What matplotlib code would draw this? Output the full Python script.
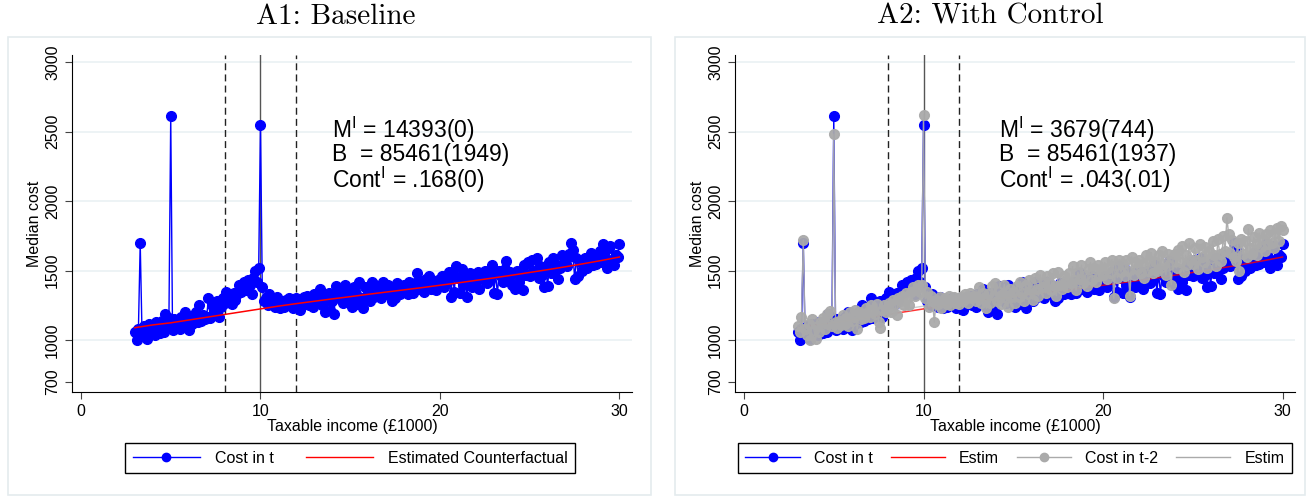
import numpy as np
import matplotlib
matplotlib.use("Agg")
import matplotlib.pyplot as plt
from matplotlib.lines import Line2D
from matplotlib.patches import Rectangle

plt.rcParams['font.family'] = ['Liberation Sans', 'DejaVu Sans']
plt.rcParams['mathtext.fontset'] = 'custom'
plt.rcParams['mathtext.rm'] = 'Liberation Sans'
plt.rcParams['mathtext.it'] = 'Liberation Sans'

# taxable income bins (£1000), 3.0 .. 30.0 in steps of 0.1
income = np.round(np.arange(30, 301) / 10, 1)

# median cost in t
cost_t = [
    1060, 1000, 1080, 1700, 1050, 1100, 1030, 1010, 1120, 1060,
    1090, 1040, 1130, 1070, 1050, 1140, 1060, 1190, 1100, 1160,
    2610, 1070, 1150, 1090, 1120, 1080, 1170, 1100, 1200, 1150,
    1070, 1160, 1120, 1180, 1200, 1130, 1250, 1140, 1180, 1150,
    1170, 1300, 1160, 1250, 1210, 1180, 1280, 1170, 1240, 1300,
    1270, 1350, 1300, 1320, 1260, 1340, 1290, 1330, 1400, 1350,
    1380, 1420, 1360, 1430, 1400, 1330, 1450, 1500, 1420, 1520,
    2550, 1380, 1280, 1300, 1250, 1330, 1270, 1290, 1240, 1310,
    1260, 1230, 1280, 1240, 1290, 1250, 1300, 1270, 1230, 1280,
    1300, 1240, 1220, 1280, 1310, 1260, 1320, 1250, 1300, 1240,
    1330, 1270, 1290, 1370, 1250, 1310, 1200, 1290, 1340, 1220,
    1280, 1190, 1390, 1330, 1300, 1360, 1270, 1400, 1350, 1310,
    1290, 1240, 1380, 1330, 1260, 1420, 1300, 1230, 1380, 1290,
    1350, 1280, 1420, 1310, 1400, 1340, 1380, 1300, 1420, 1360,
    1330, 1400, 1380, 1280, 1350, 1300, 1410, 1370, 1330, 1390,
    1400, 1360, 1330, 1420, 1380, 1340, 1410, 1480, 1370, 1420,
    1390, 1350, 1440, 1380, 1460, 1370, 1420, 1400, 1360, 1430,
    1400, 1460, 1380, 1440, 1420, 1490, 1310, 1470, 1350, 1530,
    1450, 1340, 1510, 1400, 1460, 1310, 1430, 1480, 1380, 1450,
    1420, 1490, 1370, 1460, 1440, 1500, 1410, 1470, 1430, 1540,
    1340, 1480, 1330, 1500, 1460, 1420, 1510, 1570, 1440, 1490,
    1400, 1480, 1370, 1500, 1420, 1460, 1360, 1540, 1470, 1560,
    1460, 1580, 1500, 1480, 1590, 1450, 1530, 1470, 1380, 1510,
    1390, 1560, 1480, 1590, 1500, 1540, 1440, 1520, 1610, 1560,
    1580, 1530, 1620, 1700, 1650, 1440, 1590, 1460, 1560, 1500,
    1540, 1590, 1520, 1560, 1630, 1540, 1600, 1550, 1580, 1640,
    1560, 1690, 1600, 1520, 1660, 1680, 1580, 1540, 1610, 1600,
    1690,
]

# median cost in t-2
cost_t2 = [
    1100, 1060, 1170, 1720, 1080, 1040, 1120, 1000, 1150, 1070,
    1010, 1100, 1060, 1130, 1160, 1080, 1190, 1120, 1210, 1100,
    2480, 1130, 1090, 1140, 1110, 1180, 1120, 1160, 1100, 1200,
    1140, 1170, 1220, 1080, 1200, 1150, 1190, 1160, 1230, 1200,
    1170, 1250, 1210, 1190, 1260, 1130, 1090, 1220, 1250, 1200,
    1230, 1270, 1200, 1290, 1260, 1180, 1300, 1280, 1320, 1250,
    1340, 1300, 1250, 1350, 1380, 1320, 1360, 1400, 1350, 1400,
    2620, 1300, 1350, 1240, 1320, 1280, 1130, 1290, 1260, 1310,
    1230, 1280, 1300, 1260, 1320, 1250, 1290, 1310, 1270, 1300,
    1260, 1310, 1280, 1330, 1300, 1270, 1340, 1300, 1320, 1280,
    1310, 1380, 1270, 1340, 1290, 1230, 1330, 1270, 1390, 1320,
    1410, 1280, 1350, 1260, 1330, 1400, 1300, 1240, 1370, 1310,
    1350, 1270, 1390, 1310, 1420, 1340, 1280, 1400, 1330, 1430,
    1360, 1290, 1450, 1370, 1320, 1470, 1380, 1420, 1340, 1460,
    1410, 1360, 1480, 1390, 1320, 1490, 1400, 1370, 1460, 1420,
    1380, 1480, 1410, 1530, 1430, 1360, 1490, 1440, 1540, 1410,
    1470, 1390, 1510, 1560, 1430, 1520, 1420, 1540, 1460, 1510,
    1470, 1560, 1440, 1520, 1480, 1580, 1300, 1540, 1450, 1580,
    1490, 1550, 1460, 1580, 1500, 1320, 1600, 1470, 1560, 1510,
    1580, 1480, 1550, 1450, 1610, 1500, 1570, 1630, 1480, 1560,
    1500, 1610, 1520, 1640, 1550, 1470, 1620, 1540, 1400, 1590,
    1620, 1520, 1650, 1560, 1680, 1490, 1610, 1540, 1700, 1580,
    1550, 1660, 1580, 1510, 1690, 1600, 1560, 1670, 1520, 1640,
    1590, 1710, 1610, 1530, 1730, 1620, 1570, 1750, 1640, 1880,
    1760, 1630, 1720, 1600, 1570, 1700, 1500, 1730, 1620, 1710,
    1600, 1800, 1660, 1620, 1740, 1690, 1610, 1770, 1670, 1730,
    1640, 1760, 1690, 1790, 1700, 1660, 1770, 1810, 1710, 1820,
    1790,
]

# estimated counterfactuals
cf_income = list(range(3, 31))
cf_t = [1090, 1110, 1125, 1145, 1165, 1185, 1205, 1225, 1245, 1263,
        1280, 1297, 1313, 1330, 1346, 1362, 1378, 1395, 1412, 1430,
        1448, 1467, 1487, 1507, 1528, 1550, 1573, 1598]
cf_t2 = [1105, 1125, 1145, 1165, 1185, 1205, 1225, 1245, 1265, 1285,
         1305, 1325, 1345, 1365, 1385, 1405, 1425, 1446, 1467, 1488,
         1510, 1532, 1555, 1578, 1602, 1626, 1651, 1677]

notches = [8, 12]
kink = 10
y_ticks = [700, 1000, 1500, 2000, 2500, 3000]
x_ticks = [0, 10, 20, 30]
stats_a1 = [r"M$^{\rm I}$ = 14393(0)", "B  = 85461(1949)", r"Cont$^{\rm I}$ = .168(0)"]
stats_a2 = [r"M$^{\rm I}$ = 3679(744)", "B  = 85461(1937)", r"Cont$^{\rm I}$ = .043(.01)"]

BLUE = '#0000ff'
GREY = '#aaaaaa'
RED = '#ff0000'

fig = plt.figure(figsize=(13.14, 4.98), dpi=100)
ax1 = fig.add_axes([0.0548, 0.2129, 0.4262, 0.6767])
ax2 = fig.add_axes([0.5594, 0.2129, 0.4262, 0.6767])

# outer panel frames
for x0, x1 in [(8, 651), (675, 1305)]:
    fig.patches.append(Rectangle((x0 / 1314, 3 / 498), (x1 - x0) / 1314, 458 / 498,
                                 transform=fig.transFigure, fill=False,
                                 edgecolor='#e4ebee', lw=1.2))


def style_axis(ax):
    ax.set_xlim(-0.5, 30.7)
    ax.set_ylim(628, 3050)
    ax.set_yticks(y_ticks)
    ax.set_xticks(x_ticks)
    for yv in y_ticks[1:]:
        ax.axhline(yv, color='#eaf1f3', lw=1.2, zorder=0)
    for s in ['top', 'right']:
        ax.spines[s].set_visible(False)
    ax.spines['left'].set_color('black')
    ax.spines['bottom'].set_color('black')
    ax.tick_params(axis='both', length=5, color='#444444', labelsize=11.5)
    for lab in ax.get_yticklabels():
        lab.set_rotation(90)
        lab.set_va('center')
    ax.set_ylabel('Median cost', fontsize=11.5, labelpad=2)
    ax.set_xlabel('Taxable income (£1000)', fontsize=11.5, labelpad=0)
    for n in notches:
        ax.axvline(n, color='#222222', lw=1, ls=(0, (5, 3)), zorder=1)
    ax.axvline(kink, color='#555555', lw=1, zorder=1)


style_axis(ax1)
ax1.plot(income, cost_t, color=BLUE, lw=1, marker='o', ms=7, mec=BLUE, mfc=BLUE, zorder=3)
ax1.plot(cf_income, cf_t, color=RED, lw=1.1, zorder=4)
for i, s in enumerate(stats_a1):
    ax1.text(14.0, 2510 - i * 178, s, fontsize=16.5, va='center', ha='left')

style_axis(ax2)
ax2.plot(income, cost_t, color=BLUE, lw=1, marker='o', ms=7, mec=BLUE, mfc=BLUE, zorder=3)
ax2.plot(cf_income, cf_t, color=RED, lw=1.1, zorder=4, alpha=0.8)
ax2.plot(income, cost_t2, color=GREY, lw=1, marker='o', ms=7, mec=GREY, mfc=GREY,
         alpha=0.95, zorder=5)
ax2.plot(cf_income, cf_t2, color=GREY, lw=1, zorder=5, alpha=0.6)
for i, s in enumerate(stats_a2):
    ax2.text(14.2, 2510 - i * 178, s, fontsize=16.5, va='center', ha='left')

fig.text(0.2555, 0.967, 'A1: Baseline', family='cmr10', fontsize=21, ha='center', va='center')
fig.text(0.7535, 0.967, 'A2: With Control', family='cmr10', fontsize=21, ha='center', va='center')

h_blue = Line2D([], [], color=BLUE, lw=1, marker='o', ms=6)
h_red = Line2D([], [], color=RED, lw=1)
h_grey = Line2D([], [], color=GREY, lw=1, marker='o', ms=6)
h_grey_line = Line2D([], [], color=GREY, lw=1)

leg1 = fig.legend([h_blue, h_red], ['Cost in t', 'Estimated Counterfactual'],
                  loc='center', bbox_to_anchor=(0.2664, 0.080), ncol=2,
                  fontsize=11.5, handlelength=4.2, columnspacing=2.0, handletextpad=0.95,
                  fancybox=False, edgecolor='black', framealpha=1, borderpad=0.45,
                  borderaxespad=0)
leg1.get_frame().set_linewidth(1)
leg2 = fig.legend([h_blue, h_red, h_grey, h_grey_line],
                  ['Cost in t', 'Estim', 'Cost in t-2', 'Estim'],
                  loc='center', bbox_to_anchor=(0.7725, 0.080), ncol=4,
                  fontsize=11.5, handlelength=3.4, columnspacing=1.1, handletextpad=0.9,
                  fancybox=False, edgecolor='black', framealpha=1, borderpad=0.45,
                  borderaxespad=0)
leg2.get_frame().set_linewidth(1)

fig.savefig('out.png', dpi=100)
